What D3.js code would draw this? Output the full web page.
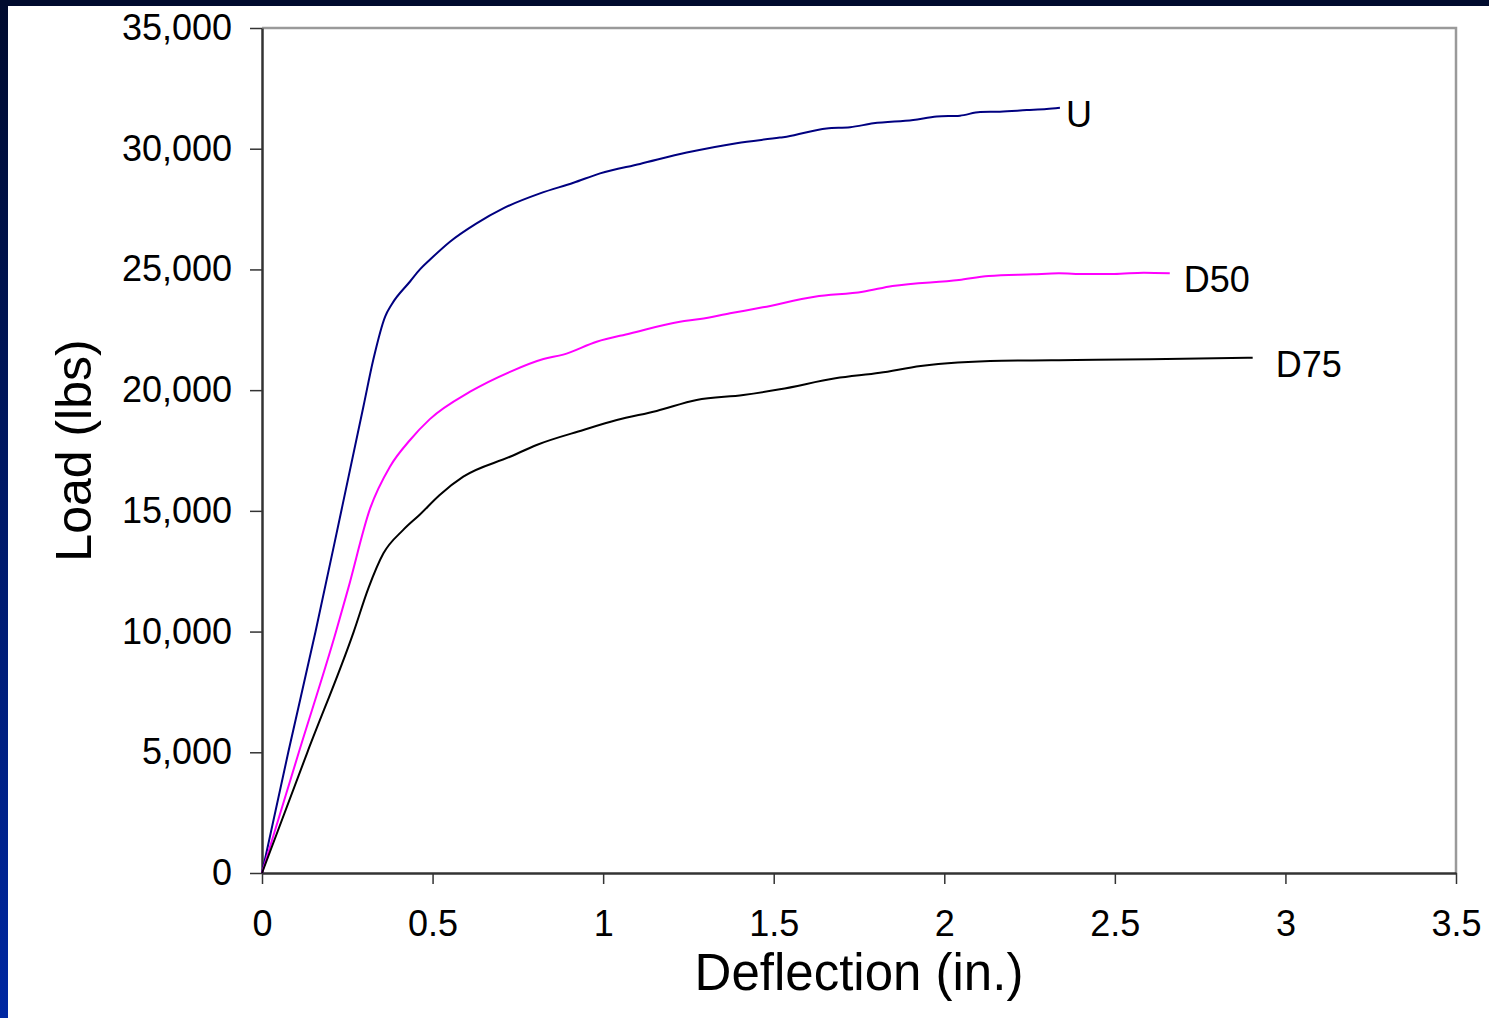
<!DOCTYPE html>
<html lang="en">
<head>
<meta charset="utf-8">
<script src="https://d3js.org/d3.v7.min.js"></script>
<style>
    body { margin: 0; background: #fff; }
    text { font-family: "Liberation Sans", Arial, sans-serif; fill: #000; }
</style>
</head>
<body>
<script>

    // deflection (in.) / load (lbs)
    var deflU = [0, 0.077, 0.157, 0.234, 0.297, 0.326, 0.361, 0.380, 0.434, 0.463, 0.492, 0.551, 0.629, 0.707, 0.815, 0.913, 0.991, 1.108, 1.245, 1.391, 1.518, 1.538, 1.655, 1.724, 1.792, 1.909, 1.978, 2.046, 2.105, 2.163, 2.242, 2.300, 2.339];
    var loadU = [0, 5000, 10000, 15100, 19300, 21250, 23050, 23550, 24500, 25000, 25400, 26150, 26910, 27530, 28150, 28590, 28980, 29370, 29840, 30230, 30460, 30500, 30840, 30890, 31050, 31190, 31330, 31370, 31520, 31535, 31600, 31645, 31700];

    var deflD50 = [0, 0.108, 0.217, 0.253, 0.317, 0.375, 0.434, 0.492, 0.610, 0.727, 0.825, 0.883, 0.981, 1.079, 1.225, 1.284, 1.372, 1.468, 1.620, 1.761, 1.848, 2.043, 2.130, 2.260, 2.336, 2.412, 2.498, 2.585, 2.661];
    var loadD50 = [0, 5000, 10000, 11800, 15100, 16830, 17935, 18800, 19935, 20760, 21290, 21470, 22007, 22350, 22835, 22946, 23183, 23431, 23870, 24077, 24313, 24562, 24727, 24797, 24838, 24810, 24810, 24865, 24838];

    var deflD75 = [0, 0.133, 0.269, 0.312, 0.356, 0.414, 0.463, 0.520, 0.590, 0.727, 0.805, 0.942, 1.040, 1.157, 1.274, 1.411, 1.518, 1.681, 1.811, 1.931, 2.169, 2.386, 2.603, 2.904];
    var loadD75 = [0, 5000, 10000, 11800, 13240, 14210, 14850, 15650, 16415, 17240, 17730, 18350, 18760, 19140, 19590, 19800, 20035, 20490, 20720, 21000, 21220, 21250, 21280, 21345];

    var seriesNames = ["U", "D50", "D75"];
    var xTicks = [0, 0.5, 1, 1.5, 2, 2.5, 3, 3.5];
    var yTicks = [0, 5000, 10000, 15000, 20000, 25000, 30000, 35000];

    var width = 1489,
        height = 1018,
        plotLeft = 262,
        plotRight = 1456,
        plotTop = 28,
        plotBottom = 873;

    var colors = {"U": "#000080", "D50": "#ff00ff", "D75": "#000000"};
    var labelDx = {"U": 6, "D50": 14, "D75": 23};

    function pairs(xs, ys) {
        return xs.map(function(x, i) { return {x: x, y: ys[i]}; });
    }
    var series = [
        {name: "U", values: pairs(deflU, loadU)},
        {name: "D50", values: pairs(deflD50, loadD50)},
        {name: "D75", values: pairs(deflD75, loadD75)}
    ];

    var x = d3.scaleLinear().domain([0, 3.5]).range([plotLeft, plotRight]);
    var y = d3.scaleLinear().domain([0, 35000]).range([plotBottom, plotTop]);

    var svg = d3.select("body").append("svg")
            .attr("width", width)
            .attr("height", height);

    var defs = svg.append("defs");
    var grad = defs.append("linearGradient")
            .attr("id", "sideGrad")
            .attr("x1", 0).attr("y1", 0).attr("x2", 0).attr("y2", 1);
    grad.append("stop").attr("offset", "0%").attr("stop-color", "#000b2e");
    grad.append("stop").attr("offset", "100%").attr("stop-color", "#0028a2");

    /*
     slide frame
     */
    svg.append("rect")
            .attr("x", 0).attr("y", 0)
            .attr("width", 8).attr("height", height)
            .style("fill", "url(#sideGrad)");
    svg.append("rect")
            .attr("x", 0).attr("y", 0)
            .attr("width", width).attr("height", 6)
            .style("fill", "#000b2e");

    /*
     plot box (top and right in grey)
     */
    svg.append("path")
            .attr("d", "M" + plotLeft + "," + plotTop + "H" + plotRight + "V" + plotBottom)
            .style("fill", "none")
            .style("stroke", "#9a9a9a")
            .style("stroke-width", 2.5);

    /*
     axes
     */
    var yAxis = svg.append("g")
            .attr("transform", "translate(" + plotLeft + ",0)")
            .call(d3.axisLeft(y).tickValues(yTicks).tickFormat(d3.format(","))
                    .tickSize(12).tickSizeOuter(0).tickPadding(18));

    var xAxis = svg.append("g")
            .attr("transform", "translate(0," + plotBottom + ")")
            .call(d3.axisBottom(x).tickValues(xTicks).tickFormat(d3.format(""))
                    .tickSize(11).tickSizeOuter(0).tickPadding(26));

    [yAxis, xAxis].forEach(function(a) {
        a.select(".domain").style("stroke", "#333").style("stroke-width", 2.5);
        a.selectAll(".tick line").style("stroke", "#333").style("stroke-width", 1.5);
        a.selectAll(".tick text")
                .style("font-family", "'Liberation Sans', Arial, sans-serif")
                .style("font-size", "36px")
                .style("fill", "#000");
    });

    /*
     axis titles
     */
    svg.append("text")
            .attr("x", (plotLeft + plotRight) / 2)
            .attr("y", 990)
            .attr("text-anchor", "middle")
            .style("font-size", "51px")
            .text("Deflection (in.)");

    svg.append("text")
            .attr("transform", "translate(91," + (plotTop + plotBottom) / 2 + ") rotate(-90)")
            .attr("text-anchor", "middle")
            .style("font-size", "50px")
            .text("Load (lbs)");

    /*
     curves
     */
    var line = d3.line()
            .curve(d3.curveMonotoneX)
            .x(function(d) { return x(d.x); })
            .y(function(d) { return y(d.y); });

    svg.selectAll("path.curve")
            .data(series)
            .enter()
            .append("path")
            .attr("class", "curve")
            .attr("d", function(d) { return line(d.values); })
            .style("fill", "none")
            .style("stroke", function(d) { return colors[d.name]; })
            .style("stroke-width", 2)
            .style("stroke-linejoin", "round");

    /*
     end labels
     */
    svg.selectAll("text.endLabel")
            .data(series)
            .enter()
            .append("text")
            .attr("class", "endLabel")
            .attr("x", function(d) { return x(d.values[d.values.length - 1].x) + labelDx[d.name]; })
            .attr("y", function(d) { return y(d.values[d.values.length - 1].y); })
            .attr("dy", "0.53em")
            .style("font-size", "36px")
            .text(function(d) { return d.name; });

</script>
</body>
</html>
